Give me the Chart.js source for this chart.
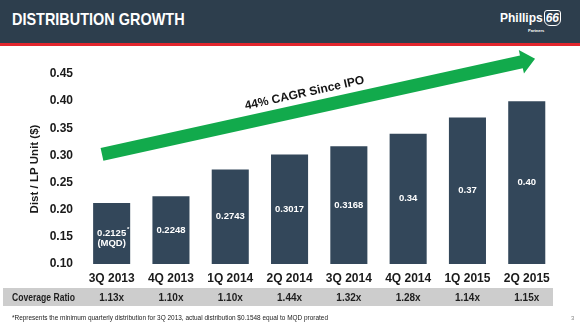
<!DOCTYPE html>
<html lang="en">
<head>
    <meta charset="UTF-8">
    <title>Distribution Growth</title>
    <script src="https://cdn.jsdelivr.net/npm/chart.js"></script>
    <style>
        body { margin: 0; font-family: "Liberation Sans", Arial, sans-serif; background: #fff; }
        #page { position: relative; width: 580px; height: 326px; overflow: hidden; }
        #chart { position: absolute; left: 0; top: 0; }
        .header { position: absolute; left: 0; top: 0; width: 580px; height: 43px; background: #2d3e4d; border-bottom: 3px solid #e3262d; }
        .title { position: absolute; left: 12px; top: 10px; color: #fff; font-weight: bold; font-size: 17px; transform: scaleX(0.85); transform-origin: left; white-space: nowrap; }
        .logo { position: absolute; left: 500px; top: 11px; color: #fff; font-weight: bold; font-size: 12px; white-space: nowrap; }
        .logo i { font-size: 12px; border: 1px solid #fff; border-radius: 3px 3px 6px 6px; padding: 0 1px; margin-left: 1px; }
        .partners { position: absolute; left: 528px; top: 28px; color: #fff; font-size: 4px; font-weight: bold; }
    </style>
</head>
<body>
<div id="page">
    <canvas id="chart" width="580" height="326"></canvas>
    <div class="header">
        <div class="title">DISTRIBUTION GROWTH</div>
        <div class="logo">Phillips<i>66</i></div>
        <div class="partners">Partners</div>
    </div>
</div>

<script>
    let quarters = ['3Q 2013', '4Q 2013', '1Q 2014', '2Q 2014', '3Q 2014', '4Q 2014', '1Q 2015', '2Q 2015'];
    let distribution = [0.2125, 0.2248, 0.2743, 0.3017, 0.3168, 0.34, 0.37, 0.40];
    let barLabels = ['0.2125', '0.2248', '0.2743', '0.3017', '0.3168', '0.34', '0.37', '0.40'];
    let barNotes = ['(MQD)', '', '', '', '', '', '', ''];
    let coverage = ['1.13x', '1.10x', '1.10x', '1.44x', '1.32x', '1.28x', '1.14x', '1.15x'];
    let yTicks = [0.10, 0.15, 0.20, 0.25, 0.30, 0.35, 0.40, 0.45];
    // arrow ends in data units (category index, value)
    let arrowStart = { x: -0.163, y: 0.302 };
    let arrowEnd = { x: 7.14, y: 0.478 };
    let arrowText = '44% CAGR Since IPO';
    let footnote = '*Represents the minimum quarterly distribution for 3Q 2013, actual distribution $0.1548 equal to MQD prorated';

    let font = '"Liberation Sans", Arial, sans-serif';

    let barLabelPlugin = {
        id: 'barLabels',
        afterDatasetsDraw(chart) {
            let ctx = chart.ctx;
            let meta = chart.getDatasetMeta(0);
            let bottom = chart.chartArea.bottom;
            ctx.save();
            ctx.fillStyle = '#ffffff';
            ctx.font = 'bold 9.5px ' + font;
            ctx.textAlign = 'center';
            ctx.textBaseline = 'middle';
            meta.data.forEach((bar, i) => {
                let mid = (bar.y + Math.min(bar.base, bottom)) / 2;
                ctx.fillText(barLabels[i], bar.x, mid);
                if (barNotes[i]) {
                    let w = ctx.measureText(barLabels[i]).width;
                    ctx.font = 'bold 6px ' + font;
                    ctx.fillText('*', bar.x + w / 2 + 2, mid - 4);
                    ctx.font = 'bold 9.5px ' + font;
                    ctx.fillText(barNotes[i], bar.x, mid + 10);
                }
            });
            ctx.restore();
        }
    };

    let arrowPlugin = {
        id: 'cagrArrow',
        afterDatasetsDraw(chart) {
            let ctx = chart.ctx;
            let xs = chart.scales.x, ys = chart.scales.y;
            let x0 = xs.getPixelForValue(arrowStart.x), y0 = ys.getPixelForValue(arrowStart.y);
            let x1 = xs.getPixelForValue(arrowEnd.x), y1 = ys.getPixelForValue(arrowEnd.y);
            let len = Math.hypot(x1 - x0, y1 - y0);
            let ang = Math.atan2(y1 - y0, x1 - x0);
            let shaft = 6.5, head = 12, headLen = 14;
            ctx.save();
            ctx.translate(x0, y0);
            ctx.rotate(ang);
            ctx.fillStyle = '#12aa4c';
            ctx.beginPath();
            ctx.moveTo(0, -shaft);
            ctx.lineTo(len - headLen, -shaft);
            ctx.lineTo(len - headLen, -head);
            ctx.lineTo(len, 0);
            ctx.lineTo(len - headLen, head);
            ctx.lineTo(len - headLen, shaft);
            ctx.lineTo(0, shaft);
            ctx.closePath();
            ctx.fill();
            ctx.fillStyle = '#141414';
            ctx.font = 'bold 12px ' + font;
            ctx.textAlign = 'center';
            ctx.textBaseline = 'middle';
            ctx.fillText(arrowText, len * 0.476, -16);
            ctx.restore();
        }
    };

    let coveragePlugin = {
        id: 'coverageRow',
        afterDraw(chart) {
            let ctx = chart.ctx;
            let xs = chart.scales.x;
            ctx.save();
            ctx.fillStyle = '#cdcdcd';
            ctx.fillRect(3, 288, 550, 18);
            ctx.fillStyle = '#1e1e1e';
            ctx.textBaseline = 'middle';
            ctx.font = 'bold 11px ' + font;
            ctx.textAlign = 'left';
            ctx.fillText('Coverage Ratio', 12, 297.5, 63);
            ctx.textAlign = 'center';
            coverage.forEach((c, i) => {
                ctx.fillText(c, xs.getPixelForValue(i), 297.5, 25);
            });
            ctx.textAlign = 'left';
            ctx.font = '6.5px ' + font;
            ctx.fillStyle = '#222';
            ctx.fillText(footnote, 12, 318, 316);
            ctx.fillStyle = '#888';
            ctx.font = '6px ' + font;
            ctx.fillText('3', 571, 318);
            ctx.restore();
        }
    };

    let ctx = document.getElementById('chart').getContext('2d');
    let chart = new Chart(ctx, {
        type: 'bar',
        data: {
            labels: quarters,
            datasets: [{
                data: distribution,
                backgroundColor: '#33475a',
                categoryPercentage: 1,
                barPercentage: 0.625
            }]
        },
        options: {
            responsive: false,
            animation: false,
            layout: { padding: { left: 24, right: 23.6, top: 74, bottom: 0 } },
            plugins: { legend: { display: false }, tooltip: { enabled: false } },
            scales: {
                x: {
                    grid: { display: false, drawTicks: false },
                    border: { display: false },
                    ticks: { color: '#1a1a1a', font: { family: font, size: 12, weight: 'bold' }, padding: 7, maxRotation: 0 },
                    afterFit(scale) { scale.height = 62; scale.paddingLeft = 0; scale.paddingRight = 0; }
                },
                y: {
                    min: 0.10,
                    max: 0.45,
                    afterBuildTicks(scale) { scale.ticks = yTicks.map(v => ({ value: v })); },
                    grid: { display: false, drawTicks: false },
                    border: { display: false },
                    ticks: {
                        color: '#1a1a1a',
                        font: { family: font, size: 12, weight: 'bold' },
                        padding: 9,
                        callback: v => v.toFixed(2)
                    },
                    title: {
                        display: true,
                        text: 'Dist / LP Unit ($)',
                        color: '#1a1a1a',
                        font: { family: font, size: 11.5, weight: 'bold' },
                        padding: { top: 4, bottom: 4 }
                    },
                    afterFit(scale) { scale.width = 58; scale.paddingTop = 0; scale.paddingBottom = 0; }
                }
            }
        },
        plugins: [barLabelPlugin, arrowPlugin, coveragePlugin]
    });
</script>
</body>
</html>
